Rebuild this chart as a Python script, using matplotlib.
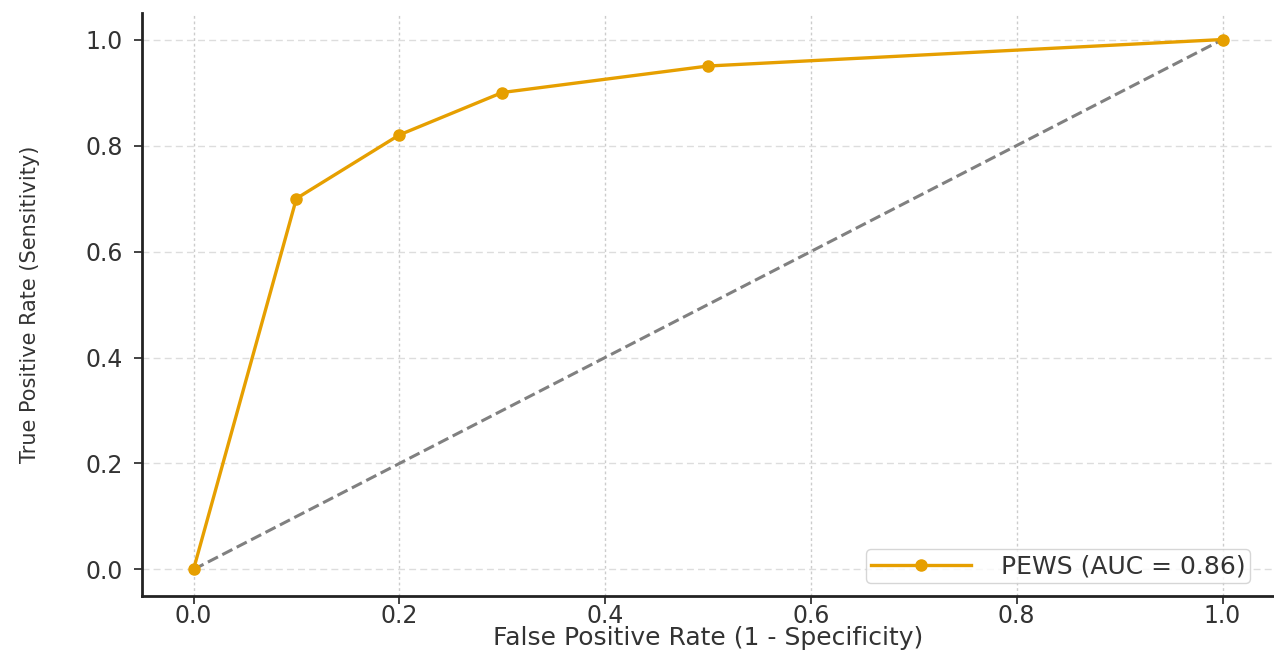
import matplotlib
matplotlib.use("Agg")
import matplotlib.pyplot as plt

# ROC points for the PEWS score
fpr = [0.0, 0.1, 0.2, 0.3, 0.5, 1.0]
tpr = [0.0, 0.7, 0.82, 0.9, 0.95, 1.0]
auc = 0.86

ticks = [0.0, 0.2, 0.4, 0.6, 0.8, 1.0]

fig = plt.figure(figsize=(12.74, 6.51), dpi=100)
ax = fig.add_axes([0.1115, 0.0845, 0.8885, 0.8955])

ax.plot(fpr, tpr, color="#E69F00", lw=2.4, marker="o", markersize=8,
        label=f"PEWS (AUC = {auc:.2f})", zorder=3)
ax.plot([0, 1], [0, 1], color="gray", lw=2.2, linestyle="--", zorder=2)

ax.set_xlim(-0.05, 1.05)
ax.set_ylim(-0.05, 1.05)
ax.set_xticks(ticks)
ax.set_yticks(ticks)

ax.yaxis.grid(True, color="#dddddd", linestyle=(0, (5, 3)), lw=1)
ax.xaxis.grid(True, color="#cccccc", linestyle=(0, (2, 2)), lw=1)
ax.set_axisbelow(True)

for side in ["top", "right"]:
    ax.spines[side].set_visible(False)
for side in ["left", "bottom"]:
    ax.spines[side].set_linewidth(2)
    ax.spines[side].set_color("#222222")

ax.tick_params(axis="both", labelsize=17, length=6, width=1.2,
               colors="#222222", labelcolor="#333333")
ax.tick_params(axis="x", pad=0)
ax.tick_params(axis="y", pad=8)
ax.set_xlabel("False Positive Rate (1 - Specificity)", fontsize=18,
              color="#333333")
ax.xaxis.set_label_coords(0.5, -0.052)
ax.set_ylabel("True Positive Rate (Sensitivity)", fontsize=15, color="#333333")
ax.yaxis.set_label_coords(-0.09, 0.5)

leg = ax.legend(loc="lower right", fontsize=18, frameon=True, handlelength=4,
                handletextpad=1.2, borderpad=0.2, bbox_to_anchor=(0.99, 0.0))
for txt in leg.get_texts():
    txt.set_color("#333333")

fig.savefig("out.png", dpi=100)
